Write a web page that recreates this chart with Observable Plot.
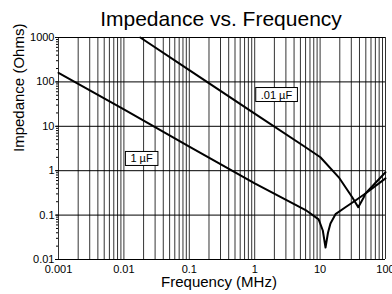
<!DOCTYPE html>
<html><head><meta charset="utf-8">
<script src="https://cdn.jsdelivr.net/npm/d3@7"></script>
<script src="https://cdn.jsdelivr.net/npm/@observablehq/plot@0.6"></script>
<style>
body{margin:0;background:#fff;width:392px;height:294px;overflow:hidden;font-family:"Liberation Sans",Arial,sans-serif}
#title{height:30px;line-height:38px;font-size:21px;text-align:center;padding-left:50px;white-space:nowrap;color:#000}
#chart svg{display:block}
</style></head><body>
<div id="title">Impedance vs. Frequency</div>
<div id="chart"></div>
<script>
// 1 µF capacitor curve
const freq1uF = [0.001, 0.01, 0.1, 1, 6, 9.5, 11, 12.1, 13.2, 14.4, 17.2, 24.4, 34.7, 49.4, 100];
const imp1uF  = [160, 24, 3.5, 0.52, 0.13, 0.08, 0.045, 0.0186, 0.04, 0.065, 0.105, 0.15, 0.213, 0.306, 0.67];
// .01 µF capacitor curve
const freq01uF = [0.0178, 0.1, 1, 6, 10.1, 19.3, 31, 38.3, 46.6, 49.4, 100];
const imp01uF  = [1000, 184, 19.3, 3.38, 2.01, 0.71, 0.253, 0.151, 0.253, 0.306, 0.925];

const xDomain = [0.001, 100];
const yDomain = [0.01, 1000];
const xTicks = [0.001, 0.01, 0.1, 1, 10, 100];
const xTickLabels = ["0.001", "0.01", "0.1", "1", "10", "100"];
const yTicks = [0.01, 0.1, 1, 10, 100, 1000];
const yTickLabels = ["0.01", "0.1", "1", "10", "100", "1000"];

const labelText = ["1 µF", ".01 µF"];
const labelFreq = [0.0186, 2.15];
const labelImp = [1.84, 50.7];

const series = [
  ...freq1uF.map((f, i) => ({f, z: imp1uF[i], s: "1uF"})),
  ...freq01uF.map((f, i) => ({f, z: imp01uF[i], s: "01uF"}))
];
const labels = labelText.map((t, i) => ({t, f: labelFreq[i], z: labelImp[i]}));

const xMinor = d3.scaleLog().domain(xDomain).ticks();
const yMinor = d3.scaleLog().domain(yDomain).ticks();

const plot = Plot.plot({
  width: 392, height: 264,
  marginLeft: 58, marginRight: 7, marginTop: 7, marginBottom: 35,
  style: {fontFamily: '"Liberation Sans", Arial, sans-serif', fontSize: "11px", color: "#000", background: "#fff", overflow: "visible"},
  x: {type: "log", domain: xDomain},
  y: {type: "log", domain: yDomain},
  marks: [
    Plot.ruleX(xMinor, {stroke: "#000", strokeOpacity: 0.8, strokeWidth: 1}),
    Plot.ruleY(yTicks, {stroke: "#000", strokeWidth: 1}),
    Plot.axisX(xTicks, {tickSize: 0, tickPadding: 6, tickFormat: d => xTickLabels[xTicks.indexOf(d)], label: null}),
    Plot.axisY(yMinor, {tickSize: 2, tickFormat: () => "", label: null}),
    Plot.axisY(yTicks, {tickSize: 3, tickPadding: 1, tickFormat: d => yTickLabels[yTicks.indexOf(d)], label: null}),
    Plot.line(series, {x: "f", y: "z", z: "s", stroke: "#000", strokeWidth: 2}),
    Plot.text(labels, {x: "f", y: "z", text: "t", fontSize: 11, fill: "#000", className: "lbl"}),
    Plot.text(["Frequency (MHz)"], {frameAnchor: "bottom", dy: 27, dx: -3, fontSize: 15, fill: "#000"}),
    Plot.text(["Impedance (Ohms)"], {frameAnchor: "left", rotate: -90, dx: -39, dy: 3.5, fontSize: 15, fill: "#000"})
  ]
});
document.getElementById("chart").append(plot);

// draw white boxes with a black border behind the curve labels
const g = plot.querySelector("g.lbl");
if (g) {
  g.querySelectorAll("text").forEach(t => {
    const b = t.getBBox();
    const r = document.createElementNS("http://www.w3.org/2000/svg", "rect");
    r.setAttribute("x", b.x - 5);
    r.setAttribute("y", b.y - 1);
    r.setAttribute("width", b.width + 10);
    r.setAttribute("height", b.height + 2);
    r.setAttribute("fill", "#fff");
    r.setAttribute("stroke", "#000");
    r.setAttribute("stroke-width", 1);
    const tr = t.getAttribute("transform");
    if (tr) r.setAttribute("transform", tr);
    t.parentNode.insertBefore(r, t);
  });
}
</script>
</body></html>
